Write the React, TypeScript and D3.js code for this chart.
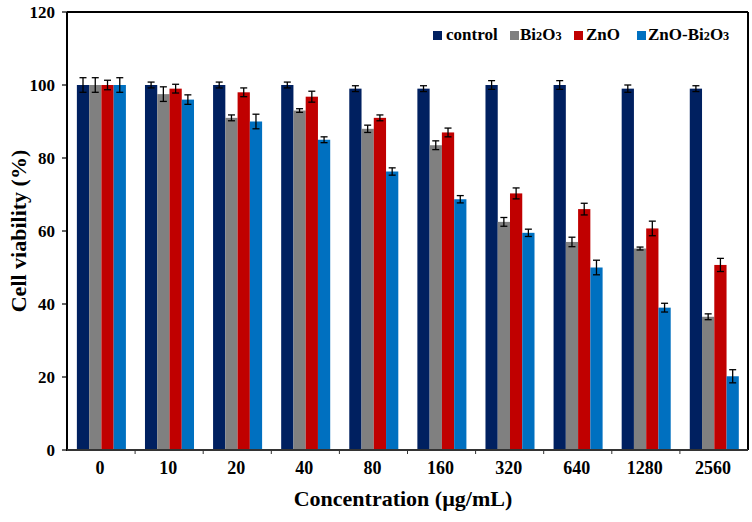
import React from "react";
import * as d3 from "d3";

const categories = ["0", "10", "20", "40", "80", "160", "320", "640", "1280", "2560"];
const seriesNames = ["control", "Bi2O3", "ZnO", "ZnO-Bi2O3"];
const control = [100, 100, 100, 100, 99, 99, 100, 100, 99, 99];
const controlErr = [2, 0.8, 0.8, 0.8, 0.8, 0.8, 1.2, 1.2, 1, 0.8];
const bi2o3 = [100, 97.5, 91, 93, 88, 83.5, 62.5, 57, 55.2, 36.5];
const bi2o3Err = [2, 2, 0.8, 0.5, 1, 1.2, 1.2, 1.3, 0.4, 0.8];
const zno = [100, 99, 98, 96.8, 91, 87, 70.3, 66, 60.7, 50.7];
const znoErr = [1.3, 1.2, 1.2, 1.5, 0.8, 1.2, 1.5, 1.6, 2, 1.8];
const znoBi = [100, 96, 90, 85, 76.3, 68.7, 59.5, 50, 39, 20.2];
const znoBiErr = [2, 1.3, 2, 0.8, 1, 1, 1, 2, 1.2, 1.8];
const yTicks = [0, 20, 40, 60, 80, 100, 120];
const colors = ["#002060", "#808080", "#C00000", "#0070C0"];

const values = [control, bi2o3, zno, znoBi];
const errors = [controlErr, bi2o3Err, znoErr, znoBiErr];

const W = 752, H = 522;
const left = 67, right = 748, top = 12, bottom = 450;
const font = "'Liberation Serif', 'Times New Roman', serif";

function SubText({ text, x, y, size }: { text: string; x: number; y: number; size: number }) {
  const parts = text.split(/(\d)/).filter((p) => p.length > 0);
  return (
    <text x={x} y={y} fontFamily={font} fontWeight="bold" fontSize={size} fill="#000">
      {parts.map((p, i) =>
        /\d/.test(p) ? (
          <tspan key={i} fontSize={size * 0.72}>{p}</tspan>
        ) : (
          <tspan key={i}>{p}</tspan>
        )
      )}
    </text>
  );
}

export default function App() {
  const x = d3.scaleBand<string>().domain(categories).range([left, right]).padding(0);
  const inner = d3
    .scaleBand<string>()
    .domain(seriesNames)
    .range([x.bandwidth() * 0.145, x.bandwidth() * 0.865])
    .padding(0);
  const y = d3.scaleLinear().domain([0, 120]).range([bottom, top]);

  const legendItems = [
    { sq: 433, tx: 446 },
    { sq: 510, tx: 520 },
    { sq: 574, tx: 586 },
    { sq: 637, tx: 648 },
  ];

  return (
    <svg width={W} height={H} style={{ position: "absolute", left: 0, top: 0, background: "#fff" }}>
      <rect x={0} y={0} width={W} height={H} fill="#fff" />
      {/* bars */}
      {categories.map((c, ci) => (
        <g key={c} transform={`translate(${x(c)},0)`}>
          {seriesNames.map((s, si) => {
            const v = values[si][ci];
            const e = errors[si][ci];
            const bx = inner(s)!;
            const bw = inner.bandwidth();
            const cx = bx + bw / 2;
            return (
              <g key={s}>
                <rect x={bx} y={y(v)} width={bw} height={y(0) - y(v)} fill={colors[si]} />
                <line x1={cx} x2={cx} y1={y(v + e)} y2={y(v - e)} stroke="#000" strokeWidth={1.3} />
                <line x1={cx - 3.5} x2={cx + 3.5} y1={y(v + e)} y2={y(v + e)} stroke="#000" strokeWidth={1.3} />
                <line x1={cx - 3.5} x2={cx + 3.5} y1={y(v - e)} y2={y(v - e)} stroke="#000" strokeWidth={1.3} />
              </g>
            );
          })}
        </g>
      ))}
      {/* frame */}
      <line x1={left} x2={right} y1={top} y2={top} stroke="#000" strokeWidth={2} />
      <line x1={right} x2={right} y1={top} y2={bottom} stroke="#000" strokeWidth={2} />
      <line x1={left} x2={left} y1={top} y2={bottom + 1} stroke="#000" strokeWidth={2} />
      <line x1={left} x2={right} y1={bottom} y2={bottom} stroke="#333" strokeWidth={2} />
      {/* y ticks */}
      {yTicks.map((t) => (
        <g key={t}>
          <line x1={left - 5} x2={left} y1={y(t)} y2={y(t)} stroke="#000" strokeWidth={1.2} />
          <text
            x={left - 12}
            y={y(t)}
            textAnchor="end"
            dominantBaseline="central"
            fontFamily={font}
            fontWeight="bold"
            fontSize={17}
          >
            {t}
          </text>
        </g>
      ))}
      {/* x ticks */}
      {categories.map((c, i) => (
        <g key={c}>
          {i > 0 && (
            <line x1={x(c)!} x2={x(c)!} y1={bottom} y2={bottom + 4} stroke="#333" strokeWidth={1} />
          )}
          <text
            x={x(c)! + x.bandwidth() / 2 - 1}
            y={bottom + 18}
            textAnchor="middle"
            dominantBaseline="central"
            fontFamily={font}
            fontWeight="bold"
            fontSize={18}
          >
            {c}
          </text>
        </g>
      ))}
      {/* axis titles */}
      <text
        x={403}
        y={498}
        textAnchor="middle"
        dominantBaseline="central"
        fontFamily={font}
        fontWeight="bold"
        fontSize={22}
      >
        Concentration (µg/mL)
      </text>
      <text
        transform={`translate(18,${(top + bottom) / 2}) rotate(-90)`}
        textAnchor="middle"
        dominantBaseline="central"
        fontFamily={font}
        fontWeight="bold"
        fontSize={22}
      >
        Cell viability (%)
      </text>
      {/* legend */}
      {seriesNames.map((s, i) => (
        <g key={s}>
          <rect x={legendItems[i].sq} y={31} width={9} height={9} fill={colors[i]} />
          <SubText text={s} x={legendItems[i].tx} y={40} size={17} />
        </g>
      ))}
    </svg>
  );
}
